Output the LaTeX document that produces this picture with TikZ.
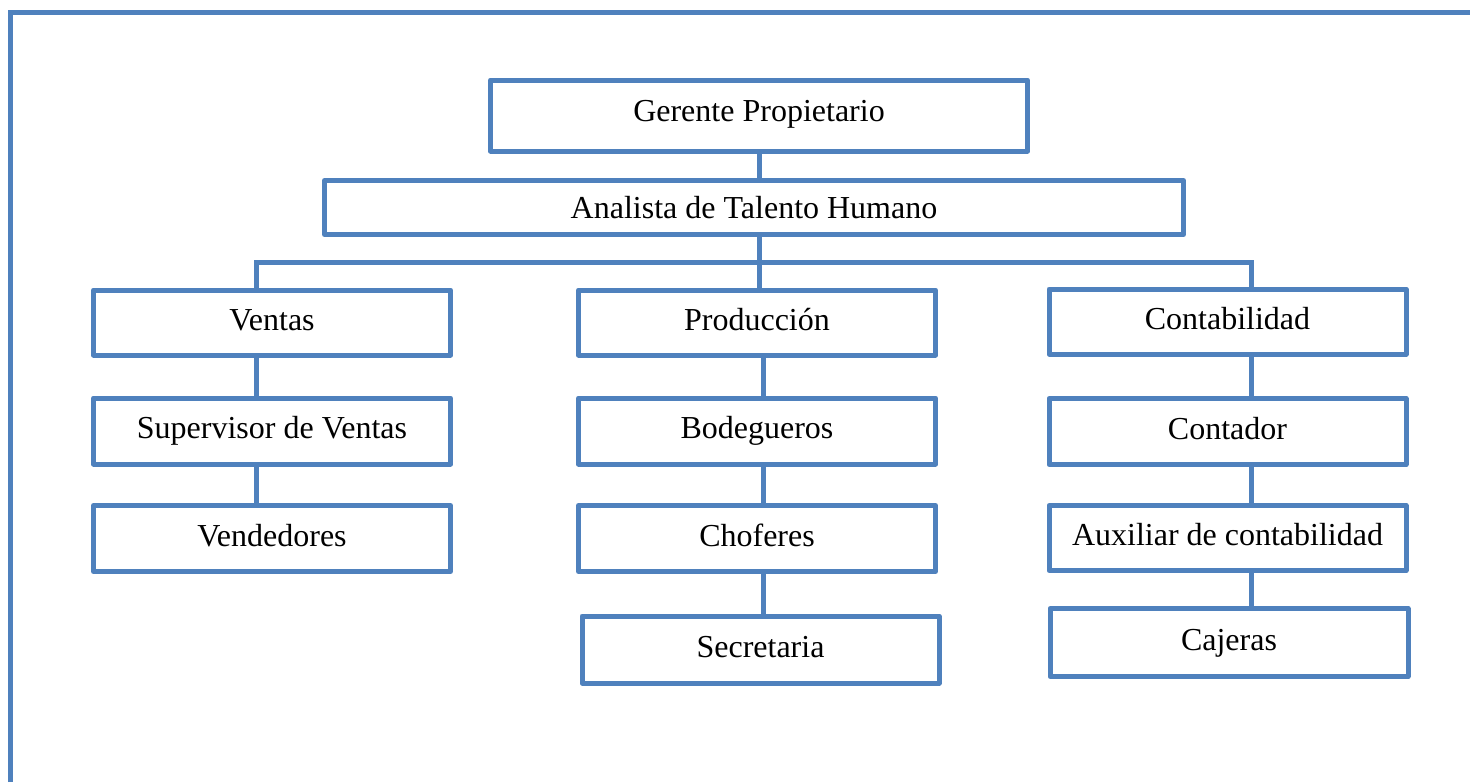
\documentclass[tikz,border=0pt]{standalone}
\usepackage{fontspec}
\setmainfont{Liberation Serif}
\definecolor{oblue}{HTML}{4F81BD}
\begin{document}
\begin{tikzpicture}[x=1pt,y=-1pt,
  conn/.style={line width=5pt, draw=oblue},
  orgbox/.style={draw=oblue, line width=5pt, line join=round, fill=white, inner sep=0pt,
     minimum width=357pt, minimum height=65pt, text height=22pt, text depth=7pt,
     font=\fontsize{32}{38}\selectfont, text=black}]
\useasboundingbox (0,0) rectangle (1470,782);
% frame
\draw[conn] (10.5,782) -- (10.5,12.5) -- (1470,12.5);
% connector anchor columns
\coordinate (busL) at (256.5,262);
\coordinate (busM) at (759.5,262);
\coordinate (busR) at (1251.5,262);
\coordinate (colP) at (763,0);
% nodes
\node[orgbox, minimum width=537pt, minimum height=71pt, text depth=11pt] (ger) at (759,115.5) {Gerente Propietario};
\node[orgbox, minimum width=859pt, minimum height=54pt, text depth=1pt] (ana) at (754,207.5) {Analista de Talento Humano};
\node[orgbox] (ven) at (272,322.5) {Ventas};
\node[orgbox] (pro) at (757,322.5) {Producción};
\node[orgbox] (con) at (1227.5,321.5) {Contabilidad};
\node[orgbox, minimum height=66pt] (sup) at (272,431) {Supervisor de Ventas};
\node[orgbox, minimum height=66pt] (vend) at (272,538.5) {Vendedores};
\node[orgbox, minimum height=66pt] (bod) at (757,431) {Bodegueros};
\node[orgbox, minimum height=66pt] (cho) at (757,538.5) {Choferes};
\node[orgbox, minimum height=67pt] (sec) at (760.5,649.5) {Secretaria};
\node[orgbox, minimum height=66pt] (cont) at (1227.5,431.5) {Contador};
\node[orgbox, minimum height=65pt] (aux) at (1227.5,538) {Auxiliar de contabilidad};
\node[orgbox, minimum width=358pt, minimum height=68pt] (caj) at (1229,642.5) {Cajeras};
% connectors
\draw[conn] (ger.south -| busM) -- (ana.north -| busM);
\draw[conn] (ana.south -| busM) -- (busM);
\draw[conn] (ven.north -| busL) -- (busL) -- (busR) -- (con.north -| busR);
\draw[conn] (busM) -- (pro.north -| busM);
\draw[conn] (ven.south -| busL) -- (sup.north -| busL);
\draw[conn] (sup.south -| busL) -- (vend.north -| busL);
\draw[conn] (pro.south -| colP) -- (bod.north -| colP);
\draw[conn] (bod.south -| colP) -- (cho.north -| colP);
\draw[conn] (cho.south -| colP) -- (sec.north -| colP);
\draw[conn] (con.south -| busR) -- (cont.north -| busR);
\draw[conn] (cont.south -| busR) -- (aux.north -| busR);
\draw[conn] (aux.south -| busR) -- (caj.north -| busR);
\end{tikzpicture}
\end{document}
